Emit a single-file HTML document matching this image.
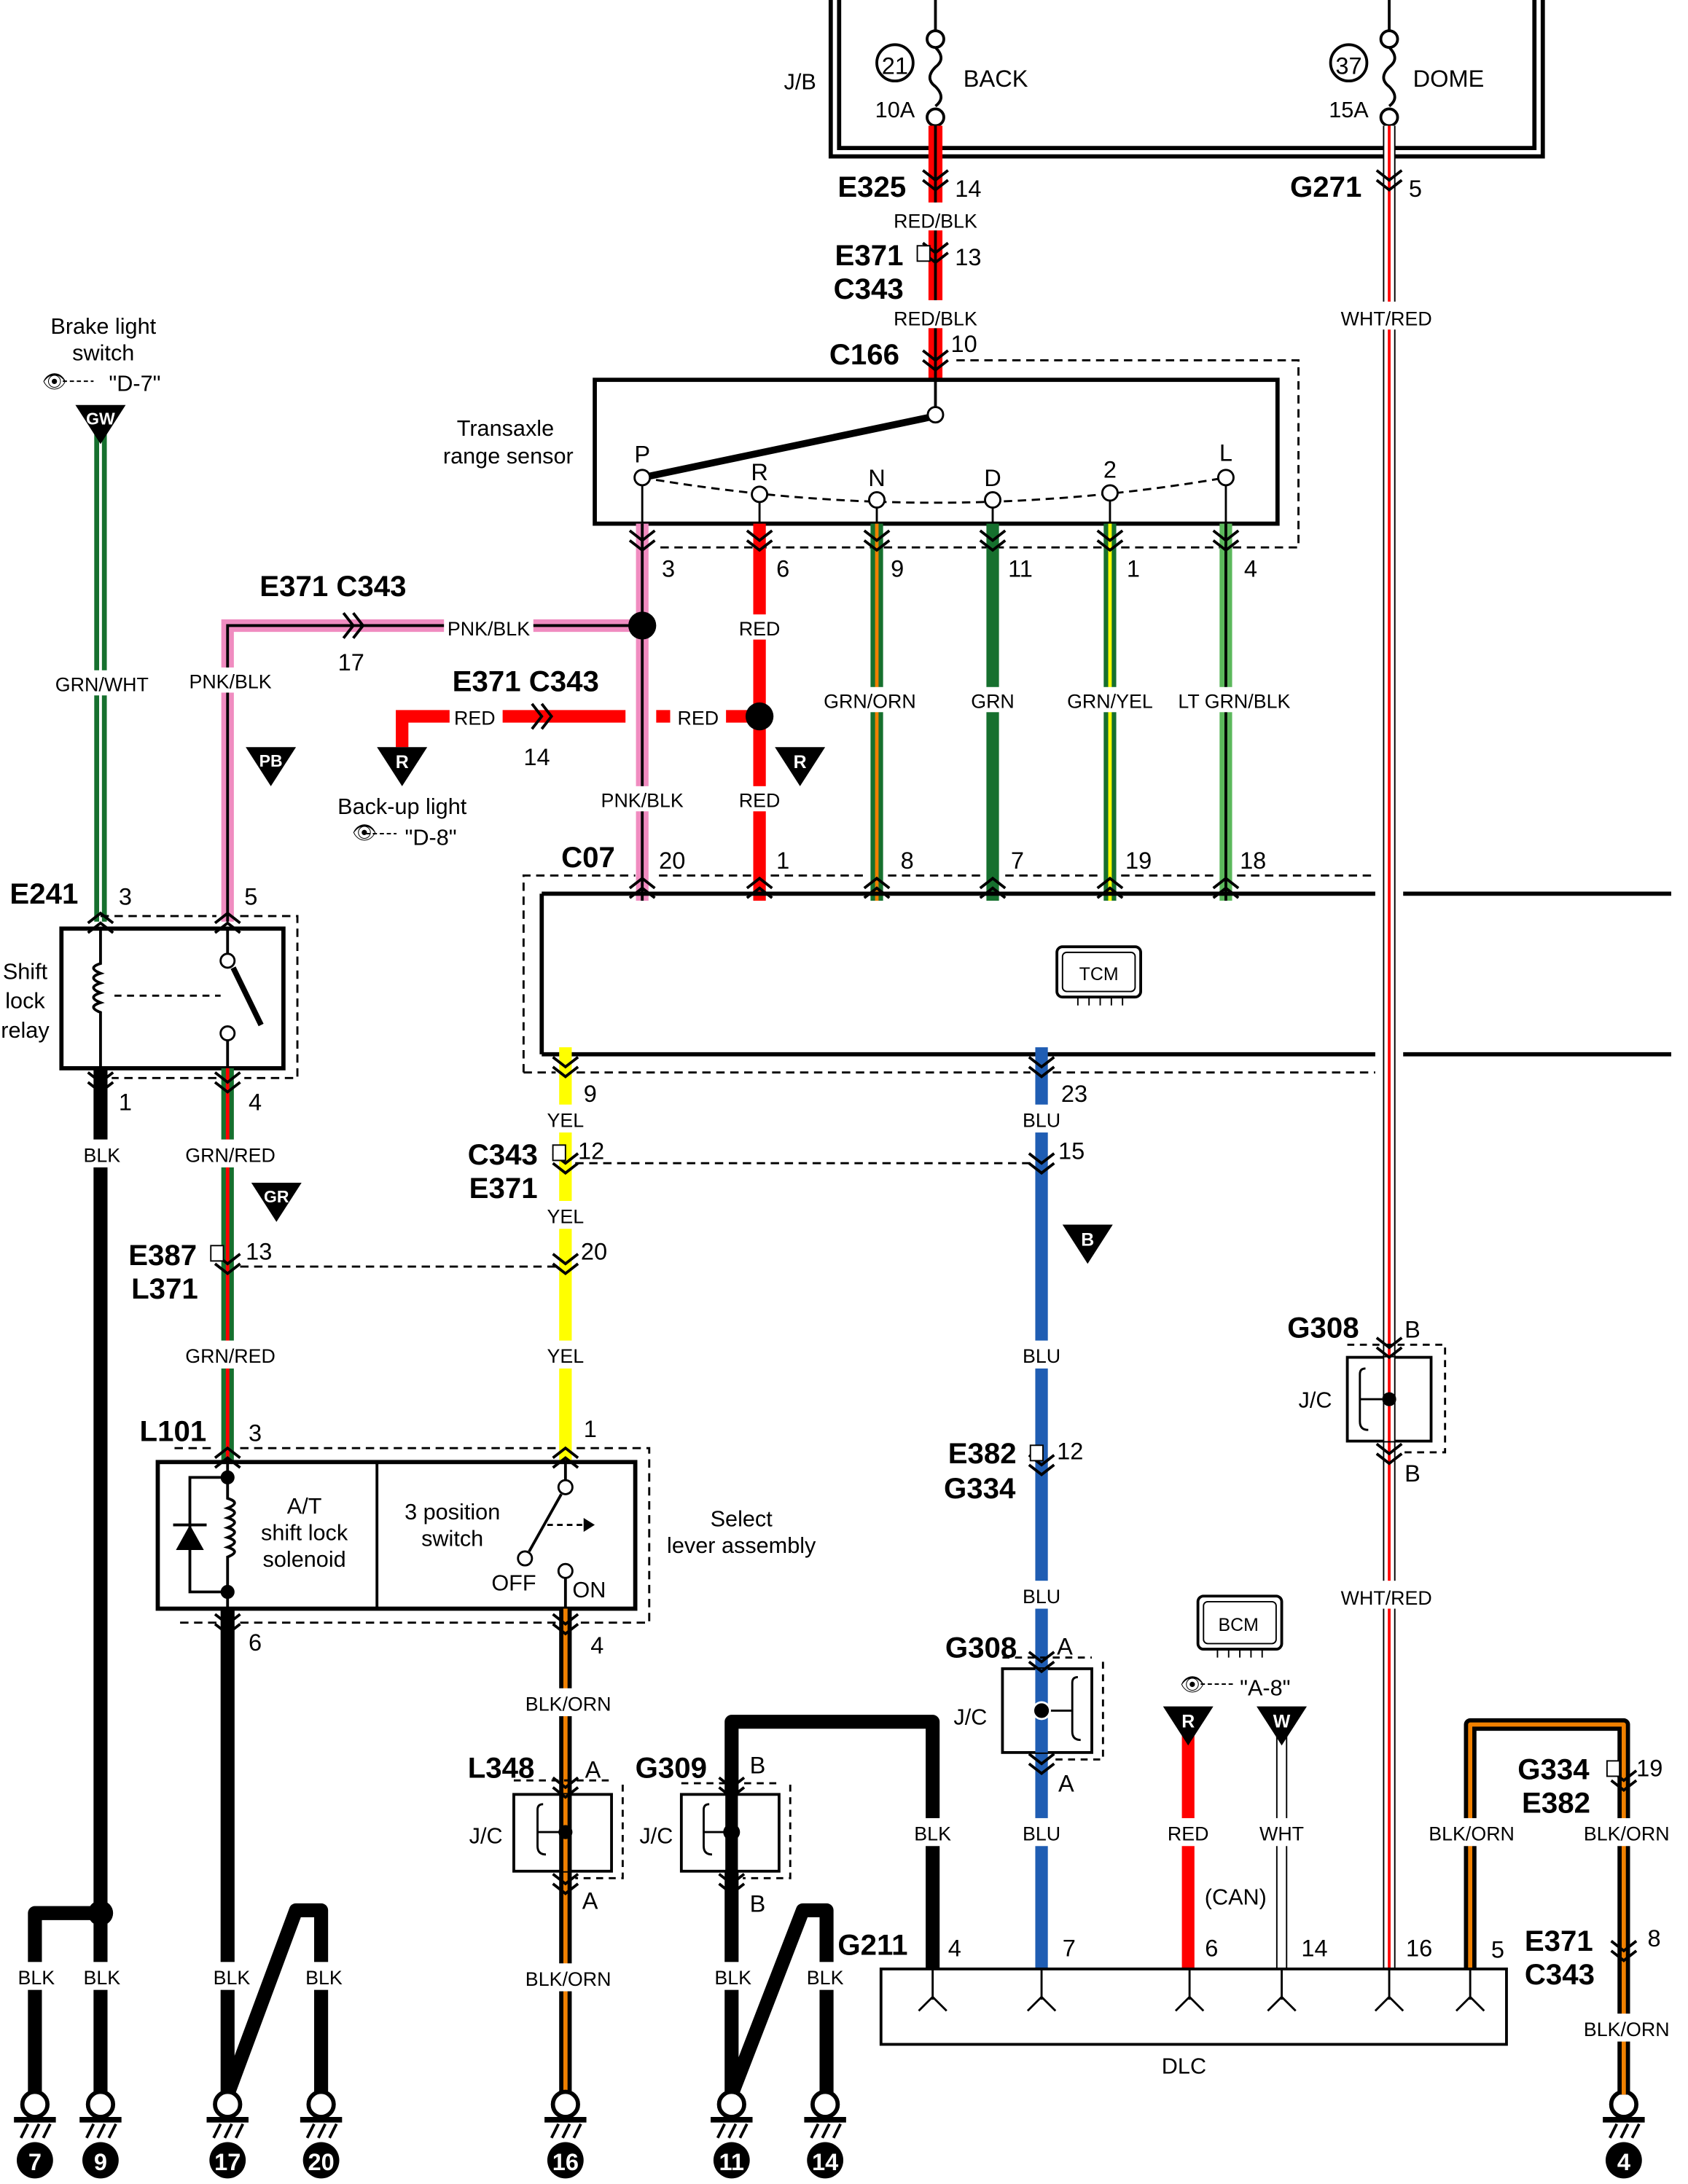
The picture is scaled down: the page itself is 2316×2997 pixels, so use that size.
<!DOCTYPE html>
<html><head><meta charset="utf-8"><style>
html,body{margin:0;padding:0;background:#fff}
svg{display:block}
text{font-family:"Liberation Sans",sans-serif;fill:#000}
.l{font-size:14px;text-anchor:middle}
.n{font-size:17px}
.b{font-size:21px;font-weight:bold}
.m{font-size:16px}
</style></head><body>
<svg width="2316" height="2997" viewBox="0 0 1209 1564" preserveAspectRatio="none" xmlns="http://www.w3.org/2000/svg">
<defs>
<g id="cv"><polyline points="-9,-4 0,3 9,-4" fill="none" stroke="#000" stroke-width="2"/><polyline points="-9,3 0,10 9,3" fill="none" stroke="#000" stroke-width="2"/></g>
<g id="cu"><polyline points="-9,4 0,-3 9,4" fill="none" stroke="#000" stroke-width="2"/><polyline points="-9,11 0,4 9,11" fill="none" stroke="#000" stroke-width="2"/></g>
<g id="gnd"><circle cx="0" cy="0" r="9" fill="#fff" stroke="#000" stroke-width="3"/><line x1="-15" y1="11" x2="15" y2="11" stroke="#000" stroke-width="4"/><path d="M-10,24 L-5,14 M-2,24 L3,14 M6,24 L11,14" stroke="#000" stroke-width="2"/></g>
</defs>

<!-- J/B -->
<path d="M595,0 V112 H1105 V0 M601,0 V106 H1099 V0" fill="none" stroke="#000" stroke-width="3"/>
<text x="573" y="64" class="m" text-anchor="middle">J/B</text>
<g fill="none" stroke="#000" stroke-width="2">
<line x1="670" y1="0" x2="670" y2="22"/><circle cx="670" cy="28" r="6" fill="#fff"/>
<path d="M670,34 q8,8 0,14 q-8,8 0,14 q8,8 0,14"/>
<circle cx="670" cy="84" r="6" fill="#fff"/>
<line x1="995" y1="0" x2="995" y2="22"/><circle cx="995" cy="28" r="6" fill="#fff"/>
<path d="M995,34 q8,8 0,14 q-8,8 0,14 q8,8 0,14"/>
<circle cx="995" cy="84" r="6" fill="#fff"/>
<circle cx="641" cy="45" r="13"/><circle cx="966" cy="45" r="13"/>
</g>
<text x="641" y="53" class="n" text-anchor="middle" font-size="19">21</text>
<text x="966" y="53" class="n" text-anchor="middle" font-size="19">37</text>
<text x="690" y="62" class="n" font-size="19">BACK</text>
<text x="1012" y="62" class="n" font-size="19">DOME</text>
<text x="641" y="84" class="m" text-anchor="middle">10A</text>
<text x="966" y="84" class="m" text-anchor="middle">15A</text>

<!-- RED/BLK top -->
<line x1="670" y1="90" x2="670" y2="272" stroke="#f00" stroke-width="10"/>
<line x1="670" y1="90" x2="670" y2="272" stroke="#000" stroke-width="2"/>
<rect x="660" y="145" width="22" height="20" fill="#fff"/><rect x="660" y="215" width="22" height="20" fill="#fff"/>
<text x="670" y="163" class="l">RED/BLK</text><text x="670" y="233" class="l">RED/BLK</text>
<use href="#cv" x="670" y="126"/><use href="#cv" x="670" y="178"/><use href="#cv" x="670" y="255"/>
<text x="600" y="141" class="b">E325</text><text x="684" y="141" class="n">14</text>
<text x="598" y="190" class="b">E371</text><rect x="657" y="176" width="9" height="11" fill="#fff" stroke="#000"/><text x="684" y="190" class="n">13</text>
<text x="597" y="214" class="b">C343</text>
<text x="594" y="261" class="b">C166</text><text x="681" y="252" class="n">10</text>

<!-- WHT/RED right -->
<line x1="995" y1="90" x2="995" y2="1410" stroke="#000" stroke-width="9"/>
<line x1="995" y1="90" x2="995" y2="1410" stroke="#fff" stroke-width="7"/>
<line x1="995" y1="90" x2="995" y2="1410" stroke="#f00" stroke-width="2"/>
<use href="#cv" x="995" y="126"/>
<text x="924" y="141" class="b">G271</text><text x="1009" y="141" class="n">5</text>
<rect x="960" y="216" width="70" height="20" fill="#fff"/><text x="993" y="233" class="l">WHT/RED</text>
<rect x="960" y="1132" width="70" height="20" fill="#fff"/><text x="993" y="1149" class="l">WHT/RED</text>

<!-- Transaxle range sensor -->
<path d="M685,258 H930 V392 H470" fill="none" stroke="#000" stroke-width="1.5" stroke-dasharray="6,4"/>
<rect x="426" y="272" width="489" height="103" fill="none" stroke="#000" stroke-width="3"/>
<text x="362" y="312" class="m" text-anchor="middle">Transaxle</text>
<text x="364" y="332" class="m" text-anchor="middle">range sensor</text>
<line x1="670" y1="272" x2="670" y2="297" stroke="#000" stroke-width="2"/>
<line x1="665" y1="299" x2="465" y2="341" stroke="#000" stroke-width="5"/>
<path d="M460,342 Q670,378 878,342" fill="none" stroke="#000" stroke-width="1.5" stroke-dasharray="6,4"/>
<g fill="#fff" stroke="#000" stroke-width="1.5">
<circle cx="670" cy="297" r="5.5"/>
<circle cx="460" cy="342" r="5.5"/><circle cx="544" cy="354" r="5.5"/><circle cx="628" cy="358" r="5.5"/>
<circle cx="711" cy="358" r="5.5"/><circle cx="795" cy="353" r="5.5"/><circle cx="878" cy="342" r="5.5"/>
</g>
<g stroke="#000" stroke-width="1.5">
<line x1="460" y1="348" x2="460" y2="375"/><line x1="544" y1="360" x2="544" y2="375"/><line x1="628" y1="364" x2="628" y2="375"/>
<line x1="711" y1="364" x2="711" y2="375"/><line x1="795" y1="359" x2="795" y2="375"/><line x1="878" y1="348" x2="878" y2="375"/>
</g>
<g class="n" font-size="18" text-anchor="middle">
<text x="460" y="331">P</text><text x="544" y="344">R</text><text x="628" y="348">N</text><text x="711" y="348">D</text><text x="795" y="342">2</text><text x="878" y="330">L</text>
</g>

<!-- sensor wires -->
<line x1="460" y1="375" x2="460" y2="645" stroke="#f08cc0" stroke-width="9"/><line x1="460" y1="375" x2="460" y2="645" stroke="#000" stroke-width="2"/>
<line x1="544" y1="375" x2="544" y2="645" stroke="#f00" stroke-width="9"/>
<line x1="628" y1="375" x2="628" y2="645" stroke="#16702e" stroke-width="9"/><line x1="628" y1="375" x2="628" y2="645" stroke="#f08000" stroke-width="2.5"/>
<line x1="711" y1="375" x2="711" y2="645" stroke="#16702e" stroke-width="9"/>
<line x1="795" y1="375" x2="795" y2="645" stroke="#16702e" stroke-width="9"/><line x1="795" y1="375" x2="795" y2="645" stroke="#ff0" stroke-width="2.5"/>
<line x1="878" y1="375" x2="878" y2="645" stroke="#5cb85c" stroke-width="9"/><line x1="878" y1="375" x2="878" y2="645" stroke="#000" stroke-width="2"/>
<g><use href="#cv" x="460" y="384"/><use href="#cv" x="544" y="384"/><use href="#cv" x="628" y="384"/><use href="#cv" x="711" y="384"/><use href="#cv" x="795" y="384"/><use href="#cv" x="878" y="384"/></g>
<g class="n"><text x="474" y="413">3</text><text x="556" y="413">6</text><text x="638" y="413">9</text><text x="722" y="413">11</text><text x="807" y="413">1</text><text x="891" y="413">4</text></g>
<g class="l">
<rect x="525" y="440" width="38" height="18" fill="#fff"/><text x="544" y="455">RED</text>
<rect x="590" y="492" width="76" height="18" fill="#fff"/><text x="623" y="507">GRN/ORN</text>
<rect x="693" y="492" width="36" height="18" fill="#fff"/><text x="711" y="507">GRN</text>
<rect x="762" y="492" width="66" height="18" fill="#fff"/><text x="795" y="507">GRN/YEL</text>
<rect x="843" y="492" width="82" height="18" fill="#fff"/><text x="884" y="507">LT GRN/BLK</text>
<rect x="430" y="563" width="62" height="18" fill="#fff"/><text x="460" y="578">PNK/BLK</text>
<rect x="525" y="563" width="38" height="18" fill="#fff"/><text x="544" y="578">RED</text>
</g>

<!-- PNK/BLK branch -->
<path d="M460,448 H163 V660" fill="none" stroke="#f08cc0" stroke-width="9"/>
<path d="M460,448 H163 V660" fill="none" stroke="#000" stroke-width="2"/>
<circle cx="460" cy="448" r="10" fill="#000"/>
<rect x="318" y="440" width="64" height="18" fill="#fff"/><text x="350" y="455" class="l">PNK/BLK</text>
<rect x="135" y="478" width="62" height="18" fill="#fff"/><text x="165" y="493" class="l">PNK/BLK</text>
<g transform="translate(250,448) rotate(-90)"><use href="#cv"/></g>
<text x="186" y="427" class="b">E371 C343</text><text x="242" y="480" class="n">17</text>
<path d="M176,535 h36 l-18,28z" fill="#000"/><text x="194" y="549" style="fill:#fff" font-size="12" font-weight="bold" text-anchor="middle">PB</text>

<!-- RED branch -->
<path d="M544,513 H495 M480,513 H470 M448,513 H288 V535" fill="none" stroke="#f00" stroke-width="9"/>
<circle cx="544" cy="513" r="10" fill="#000"/>
<rect x="322" y="504" width="38" height="18" fill="#fff"/><text x="340" y="519" class="l">RED</text>
<rect x="482" y="504" width="38" height="18" fill="#fff"/><text x="500" y="519" class="l">RED</text>
<g transform="translate(385,513) rotate(-90)"><use href="#cv"/></g>
<text x="324" y="495" class="b">E371 C343</text><text x="375" y="548" class="n">14</text>
<path d="M270,535 h36 l-18,28z" fill="#000"/><text x="288" y="550" style="fill:#fff" font-size="13" font-weight="bold" text-anchor="middle">R</text>
<path d="M555,535 h36 l-18,28z" fill="#000"/><text x="573" y="550" style="fill:#fff" font-size="13" font-weight="bold" text-anchor="middle">R</text>
<text x="288" y="583" class="m" text-anchor="middle">Back-up light</text>
<text x="290" y="605" class="m">"D-8"</text><text x="252" y="601" font-size="14">👁</text><path d="M262,597 h22" stroke="#000" stroke-dasharray="3,2"/>

<!-- C07 / TCM -->
<path d="M375,768 V627 H455 M472,627 H538 M552,627 H620 M636,627 H704 M720,627 H788 M803,627 H870 M886,627 H985" fill="none" stroke="#000" stroke-width="1.5" stroke-dasharray="6,4"/>
<path d="M375,768 H398 M413,768 H738 M754,768 H985" fill="none" stroke="#000" stroke-width="1.5" stroke-dasharray="6,4"/>
<path d="M388,640 H985 M1005,640 H1197 M388,755 H985 M1005,755 H1197 M388,640 V755" fill="none" stroke="#000" stroke-width="3"/>
<g><use href="#cu" x="460" y="632"/><use href="#cu" x="544" y="632"/><use href="#cu" x="628" y="632"/><use href="#cu" x="711" y="632"/><use href="#cu" x="795" y="632"/><use href="#cu" x="878" y="632"/></g>
<text x="402" y="621" class="b">C07</text>
<g class="n"><text x="472" y="622">20</text><text x="556" y="622">1</text><text x="645" y="622">8</text><text x="724" y="622">7</text><text x="806" y="622">19</text><text x="888" y="622">18</text></g>
<rect x="757" y="678" width="60" height="36" rx="4" fill="#fff" stroke="#000" stroke-width="2"/>
<rect x="761" y="682" width="52" height="28" rx="3" fill="none" stroke="#000" stroke-width="1"/>
<text x="787" y="702" font-size="13" text-anchor="middle">TCM</text>
<path d="M772,714 v6 M780,714 v6 M788,714 v6 M796,714 v6 M804,714 v6" stroke="#000"/>

<!-- YEL and BLU wires -->
<line x1="405" y1="750" x2="405" y2="1060" stroke="#ff0" stroke-width="9"/>
<line x1="746" y1="750" x2="746" y2="1410" stroke="#1f5db3" stroke-width="9"/>
<g class="l">
<rect x="388" y="791" width="34" height="20" fill="#fff"/><text x="405" y="807">YEL</text>
<rect x="388" y="860" width="34" height="20" fill="#fff"/><text x="405" y="876">YEL</text>
<rect x="388" y="960" width="34" height="20" fill="#fff"/><text x="405" y="976">YEL</text>
<rect x="728" y="791" width="36" height="20" fill="#fff"/><text x="746" y="807">BLU</text>
<rect x="728" y="960" width="36" height="20" fill="#fff"/><text x="746" y="976">BLU</text>
<rect x="728" y="1132" width="36" height="20" fill="#fff"/><text x="746" y="1148">BLU</text>
<rect x="728" y="1302" width="36" height="20" fill="#fff"/><text x="746" y="1318">BLU</text>
</g>
<use href="#cv" x="405" y="761"/><use href="#cv" x="746" y="761"/>
<text x="418" y="789" class="n">9</text><text x="760" y="789" class="n">23</text>
<use href="#cv" x="405" y="830"/><use href="#cv" x="746" y="830"/>
<line x1="412" y1="833" x2="738" y2="833" stroke="#000" stroke-width="1.5" stroke-dasharray="6,4"/>
<text x="335" y="834" class="b">C343</text><rect x="396" y="820" width="9" height="11" fill="#fff" stroke="#000"/><text x="414" y="830" class="n">12</text><text x="758" y="830" class="n">15</text>
<text x="336" y="858" class="b">E371</text>
<path d="M761,877 h36 l-18,28z" fill="#000"/><text x="779" y="892" style="fill:#fff" font-size="13" font-weight="bold" text-anchor="middle">B</text>
<use href="#cv" x="405" y="902"/><text x="416" y="902" class="n">20</text>

<!-- Left GRN/WHT -->
<text x="74" y="239" class="m" text-anchor="middle">Brake light</text>
<text x="74" y="258" class="m" text-anchor="middle">switch</text>
<text x="30" y="278" font-size="14">👁</text><path d="M45,273 h22" stroke="#000" stroke-dasharray="3,2"/><text x="78" y="280" class="m">"D-7"</text>
<line x1="72" y1="300" x2="72" y2="660" stroke="#16702e" stroke-width="9"/><line x1="72" y1="300" x2="72" y2="660" stroke="#fff" stroke-width="2"/>
<path d="M54,290 h36 l-18,28z" fill="#000"/><text x="72" y="304" style="fill:#fff" font-size="12" font-weight="bold" text-anchor="middle">GW</text>
<rect x="38" y="480" width="70" height="18" fill="#fff"/><text x="73" y="495" class="l">GRN/WHT</text>

<!-- E241 relay -->
<path d="M72,656 H155 M172,656 H213 V772 H175 M155,772 H80" fill="none" stroke="#000" stroke-width="1.5" stroke-dasharray="6,4"/>
<rect x="44" y="665" width="159" height="100" fill="#fff" stroke="#000" stroke-width="3"/>
<use href="#cu" x="72" y="657"/><use href="#cu" x="163" y="657"/>
<text x="7" y="647" class="b">E241</text><text x="85" y="648" class="n">3</text><text x="175" y="648" class="n">5</text>
<text x="18" y="701" class="m" text-anchor="middle">Shift</text><text x="18" y="722" class="m" text-anchor="middle">lock</text><text x="18" y="743" class="m" text-anchor="middle">relay</text>
<path d="M72,665 V690 q-10,3 0,7 q-10,3 0,7 q-10,3 0,7 q-10,3 0,7 q-10,3 0,7 V765" fill="none" stroke="#000" stroke-width="2"/>
<line x1="82" y1="713" x2="158" y2="713" stroke="#000" stroke-width="1.5" stroke-dasharray="5,4"/>
<path d="M163,665 V683 M163,745 V765" stroke="#000" stroke-width="2" fill="none"/>
<line x1="167" y1="693" x2="187" y2="734" stroke="#000" stroke-width="4"/>
<circle cx="163" cy="688" r="5" fill="#fff" stroke="#000" stroke-width="1.5"/><circle cx="163" cy="740" r="5" fill="#fff" stroke="#000" stroke-width="1.5"/>

<!-- BLK x=72 and GRN/RED x=163 -->
<line x1="72" y1="765" x2="72" y2="1500" stroke="#000" stroke-width="10"/>
<line x1="163" y1="765" x2="163" y2="1050" stroke="#16702e" stroke-width="9"/><line x1="163" y1="765" x2="163" y2="1050" stroke="#f00" stroke-width="2.5"/>
<use href="#cv" x="72" y="772"/><use href="#cv" x="163" y="772"/>
<text x="85" y="795" class="n">1</text><text x="178" y="795" class="n">4</text>
<rect x="55" y="816" width="36" height="20" fill="#fff"/><text x="73" y="832" class="l">BLK</text>
<rect x="130" y="816" width="68" height="20" fill="#fff"/><text x="165" y="832" class="l">GRN/RED</text>
<path d="M180,847 h36 l-18,28z" fill="#000"/><text x="198" y="861" style="fill:#fff" font-size="12" font-weight="bold" text-anchor="middle">GR</text>
<use href="#cv" x="163" y="902"/>
<line x1="172" y1="907" x2="398" y2="907" stroke="#000" stroke-width="1.5" stroke-dasharray="6,4"/>
<text x="92" y="906" class="b">E387</text><rect x="151" y="892" width="9" height="11" fill="#fff" stroke="#000"/><text x="176" y="902" class="n">13</text>
<text x="94" y="930" class="b">L371</text>
<rect x="130" y="960" width="68" height="20" fill="#fff"/><text x="165" y="976" class="l">GRN/RED</text>

<!-- L101 -->
<path d="M125,1037 H155 M172,1037 H398 M413,1037 H465 V1162 H413 M398,1162 H172 M155,1162 H125" fill="none" stroke="#000" stroke-width="1.5" stroke-dasharray="6,4"/>
<rect x="113" y="1047" width="342" height="105" fill="#fff" stroke="#000" stroke-width="3"/>
<line x1="270" y1="1047" x2="270" y2="1152" stroke="#000" stroke-width="2"/>
<use href="#cu" x="163" y="1040"/><use href="#cu" x="405" y="1040"/>
<text x="100" y="1032" class="b">L101</text><text x="178" y="1032" class="n">3</text><text x="418" y="1029" class="n">1</text>
<path d="M163,1047 V1058 H136 V1140 H163 V1152" fill="none" stroke="#000" stroke-width="2"/>
<path d="M163,1058 V1073 q10,3 0,7 q10,3 0,7 q10,3 0,7 q10,3 0,7 q10,3 0,7 q10,3 0,7 V1140" fill="none" stroke="#000" stroke-width="2"/>
<path d="M126,1110 h20 l-10,-18z" fill="#000"/><line x1="124" y1="1092" x2="148" y2="1092" stroke="#000" stroke-width="2"/>
<circle cx="163" cy="1058" r="5" fill="#000"/><circle cx="163" cy="1140" r="5" fill="#000"/>
<text x="218" y="1084" class="m" text-anchor="middle">A/T</text><text x="218" y="1103" class="m" text-anchor="middle">shift lock</text><text x="218" y="1122" class="m" text-anchor="middle">solenoid</text>
<text x="324" y="1088" class="m" text-anchor="middle">3 position</text><text x="324" y="1107" class="m" text-anchor="middle">switch</text>
<path d="M405,1047 V1060 M405,1130 V1152" stroke="#000" stroke-width="2"/>
<circle cx="405" cy="1065" r="5" fill="#fff" stroke="#000" stroke-width="1.5"/>
<circle cx="376" cy="1116" r="5" fill="#fff" stroke="#000" stroke-width="1.5"/>
<circle cx="405" cy="1125" r="5" fill="#fff" stroke="#000" stroke-width="1.5"/>
<line x1="402" y1="1070" x2="379" y2="1111" stroke="#000" stroke-width="2"/>
<line x1="392" y1="1092" x2="418" y2="1092" stroke="#000" stroke-width="1.5" stroke-dasharray="4,3"/><path d="M418,1087 l8,5 l-8,5z" fill="#000"/>
<text x="368" y="1139" class="m" text-anchor="middle">OFF</text><text x="422" y="1144" class="m" text-anchor="middle">ON</text>
<text x="531" y="1093" class="m" text-anchor="middle">Select</text><text x="531" y="1112" class="m" text-anchor="middle">lever assembly</text>

<!-- below L101 -->
<path d="M163,1152 V1500 L212,1368 H230 V1500" fill="none" stroke="#000" stroke-width="10" stroke-linejoin="round"/>
<path d="M72,1370 H25 V1500" fill="none" stroke="#000" stroke-width="10" stroke-linejoin="round"/>
<circle cx="72" cy="1370" r="9" fill="#000"/>
<line x1="405" y1="1152" x2="405" y2="1500" stroke="#000" stroke-width="9"/><line x1="405" y1="1152" x2="405" y2="1500" stroke="#f08000" stroke-width="3"/>
<use href="#cv" x="163" y="1160"/><use href="#cv" x="405" y="1160"/>
<text x="178" y="1182" class="n">6</text><text x="423" y="1184" class="n">4</text>
<rect x="375" y="1209" width="64" height="20" fill="#fff"/><text x="407" y="1225" class="l">BLK/ORN</text>

<!-- L348 -->
<path d="M368,1275 H438 M446,1278 V1345 H412" fill="none" stroke="#000" stroke-width="1.5" stroke-dasharray="5,4"/>
<rect x="368" y="1285" width="70" height="55" fill="#fff" stroke="#000" stroke-width="2"/>
<line x1="405" y1="1285" x2="405" y2="1340" stroke="#000" stroke-width="9"/><line x1="405" y1="1285" x2="405" y2="1340" stroke="#f08000" stroke-width="3"/>
<path d="M385,1296 V1322 q0,6 6,6 M385,1296 q0,-4 4,-4" fill="none" stroke="#000" stroke-width="1.5"/>
<line x1="385" y1="1312" x2="405" y2="1312" stroke="#000" stroke-width="1.5"/><circle cx="405" cy="1312" r="5" fill="#000"/>
<use href="#cv" x="405" y="1277"/><use href="#cv" x="405" y="1346"/>
<text x="335" y="1273" class="b">L348</text><text x="419" y="1273" class="n">A</text><text x="417" y="1367" class="n">A</text>
<text x="348" y="1320" class="m" text-anchor="middle">J/C</text>
<rect x="375" y="1406" width="64" height="20" fill="#fff"/><text x="407" y="1422" class="l">BLK/ORN</text>

<!-- G309 / G211 -->
<path d="M668,1410 V1233 H524 V1500 L575,1368 H592 V1500" fill="none" stroke="#000" stroke-width="10" stroke-linejoin="round"/>
<path d="M488,1277 H558 M566,1278 V1345 H532" fill="none" stroke="#000" stroke-width="1.5" stroke-dasharray="5,4"/>
<rect x="488" y="1285" width="70" height="55" fill="#fff" stroke="#000" stroke-width="2"/>
<line x1="524" y1="1285" x2="524" y2="1340" stroke="#000" stroke-width="9"/>
<path d="M504,1296 V1322 q0,6 6,6 M504,1296 q0,-4 4,-4" fill="none" stroke="#000" stroke-width="1.5"/>
<line x1="504" y1="1312" x2="520" y2="1312" stroke="#000" stroke-width="1.5"/><circle cx="524" cy="1312" r="6" fill="#000"/>
<use href="#cv" x="524" y="1277"/><use href="#cv" x="524" y="1346"/>
<text x="455" y="1273" class="b">G309</text><text x="537" y="1270" class="n">B</text><text x="537" y="1369" class="n">B</text>
<text x="470" y="1320" class="m" text-anchor="middle">J/C</text>
<rect x="650" y="1302" width="36" height="20" fill="#fff"/><text x="668" y="1318" class="l">BLK</text>

<!-- bottom BLK labels -->
<g class="l">
<rect x="8" y="1405" width="36" height="20" fill="#fff"/><text x="26" y="1421">BLK</text>
<rect x="55" y="1405" width="36" height="20" fill="#fff"/><text x="73" y="1421">BLK</text>
<rect x="148" y="1405" width="36" height="20" fill="#fff"/><text x="166" y="1421">BLK</text>
<rect x="213" y="1405" width="36" height="20" fill="#fff"/><text x="232" y="1421">BLK</text>
<rect x="507" y="1405" width="36" height="20" fill="#fff"/><text x="525" y="1421">BLK</text>
<rect x="573" y="1405" width="36" height="20" fill="#fff"/><text x="591" y="1421">BLK</text>
</g>

<!-- grounds -->
<use href="#gnd" x="25" y="1507"/><use href="#gnd" x="72" y="1507"/><use href="#gnd" x="163" y="1507"/><use href="#gnd" x="230" y="1507"/>
<use href="#gnd" x="405" y="1507"/><use href="#gnd" x="524" y="1507"/><use href="#gnd" x="591" y="1507"/><use href="#gnd" x="1163" y="1507"/>
<g font-size="17" font-weight="bold" text-anchor="middle">
<circle cx="25" cy="1547" r="13" fill="#000"/><text x="25" y="1554" style="fill:#fff">7</text>
<circle cx="72" cy="1547" r="13" fill="#000"/><text x="72" y="1554" style="fill:#fff">9</text>
<circle cx="163" cy="1547" r="13" fill="#000"/><text x="163" y="1554" style="fill:#fff">17</text>
<circle cx="230" cy="1547" r="13" fill="#000"/><text x="230" y="1554" style="fill:#fff">20</text>
<circle cx="405" cy="1547" r="13" fill="#000"/><text x="405" y="1554" style="fill:#fff">16</text>
<circle cx="524" cy="1547" r="13" fill="#000"/><text x="524" y="1554" style="fill:#fff">11</text>
<circle cx="591" cy="1547" r="13" fill="#000"/><text x="591" y="1554" style="fill:#fff">14</text>
<circle cx="1163" cy="1547" r="13" fill="#000"/><text x="1163" y="1554" style="fill:#fff">4</text>
</g>

<!-- BLU E382/G334, G308 A -->
<use href="#cv" x="746" y="1046"/>
<text x="679" y="1048" class="b">E382</text><rect x="738" y="1035" width="9" height="11" fill="#fff" stroke="#000"/><text x="757" y="1045" class="n">12</text>
<text x="676" y="1073" class="b">G334</text>
<path d="M718,1187 H782 M790,1190 V1260 H756" fill="none" stroke="#000" stroke-width="1.5" stroke-dasharray="5,4"/>
<rect x="718" y="1195" width="64" height="60" fill="#fff" stroke="#000" stroke-width="2"/>
<line x1="746" y1="1195" x2="746" y2="1255" stroke="#1f5db3" stroke-width="9"/>
<path d="M768,1205 V1240 q0,6 6,6 M768,1205 q0,-4 4,-4" fill="none" stroke="#000" stroke-width="1.5"/>
<line x1="750" y1="1225" x2="768" y2="1225" stroke="#000" stroke-width="1.5"/><circle cx="746" cy="1225" r="6" fill="#000" stroke="#fff" stroke-width="1.5"/>
<use href="#cv" x="746" y="1187"/><use href="#cv" x="746" y="1260"/>
<text x="677" y="1187" class="b">G308</text><text x="757" y="1185" class="n">A</text><text x="758" y="1283" class="n">A</text>
<text x="695" y="1235" class="m" text-anchor="middle">J/C</text>

<!-- G308 B on WHT/RED -->
<path d="M965,963 H1035 V1040 H1005" fill="none" stroke="#000" stroke-width="1.5" stroke-dasharray="5,4"/>
<rect x="965" y="972" width="60" height="60" fill="#fff" stroke="#000" stroke-width="2"/>
<line x1="995" y1="972" x2="995" y2="1032" stroke="#000" stroke-width="9"/><line x1="995" y1="972" x2="995" y2="1032" stroke="#fff" stroke-width="7"/><line x1="995" y1="972" x2="995" y2="1032" stroke="#f00" stroke-width="2"/>
<path d="M974,984 V1018 q0,6 6,6 M974,984 q0,-4 4,-4" fill="none" stroke="#000" stroke-width="1.5"/>
<line x1="974" y1="1002" x2="990" y2="1002" stroke="#000" stroke-width="1.5"/><circle cx="995" cy="1002" r="5" fill="#000"/>
<use href="#cv" x="995" y="962"/><use href="#cv" x="995" y="1038"/>
<text x="922" y="958" class="b">G308</text><text x="1006" y="958" class="n">B</text><text x="1006" y="1061" class="n">B</text>
<text x="942" y="1008" class="m" text-anchor="middle">J/C</text>

<!-- BCM -->
<rect x="858" y="1143" width="60" height="38" rx="4" fill="#fff" stroke="#000" stroke-width="2"/>
<rect x="862" y="1147" width="52" height="30" rx="3" fill="none" stroke="#000" stroke-width="1"/>
<text x="887" y="1168" font-size="13" text-anchor="middle">BCM</text>
<path d="M872,1181 v6 M880,1181 v6 M888,1181 v6 M896,1181 v6 M904,1181 v6" stroke="#000"/>
<text x="845" y="1211" font-size="14">👁</text><path d="M860,1206 h24" stroke="#000" stroke-dasharray="3,2"/><text x="888" y="1214" class="m">"A-8"</text>
<line x1="851" y1="1240" x2="851" y2="1410" stroke="#f00" stroke-width="9"/>
<line x1="918" y1="1240" x2="918" y2="1410" stroke="#000" stroke-width="8"/><line x1="918" y1="1240" x2="918" y2="1410" stroke="#fff" stroke-width="6"/>
<path d="M833,1222 h36 l-18,28z" fill="#000"/><text x="851" y="1237" style="fill:#fff" font-size="13" font-weight="bold" text-anchor="middle">R</text>
<path d="M900,1222 h36 l-18,28z" fill="#000"/><text x="918" y="1237" style="fill:#fff" font-size="13" font-weight="bold" text-anchor="middle">W</text>
<rect x="833" y="1302" width="36" height="20" fill="#fff"/><text x="851" y="1318" class="l">RED</text>
<rect x="900" y="1302" width="36" height="20" fill="#fff"/><text x="918" y="1318" class="l">WHT</text>
<text x="885" y="1364" class="m" text-anchor="middle">(CAN)</text>

<!-- BLK/ORN right -->
<path d="M1053,1410 V1235 H1163 V1500" fill="none" stroke="#000" stroke-width="9" stroke-linejoin="round"/>
<path d="M1053,1410 V1235 H1163 V1500" fill="none" stroke="#f08000" stroke-width="3" stroke-linejoin="round"/>
<use href="#cv" x="1163" y="1272"/>
<text x="1087" y="1274" class="b">G334</text><rect x="1151" y="1261" width="9" height="11" fill="#fff" stroke="#000"/><text x="1172" y="1272" class="n">19</text>
<text x="1090" y="1298" class="b">E382</text>
<g class="l">
<rect x="1022" y="1302" width="64" height="20" fill="#fff"/><text x="1054" y="1318">BLK/ORN</text>
<rect x="1133" y="1302" width="64" height="20" fill="#fff"/><text x="1165" y="1318">BLK/ORN</text>
<rect x="1133" y="1442" width="64" height="20" fill="#fff"/><text x="1165" y="1458">BLK/ORN</text>
</g>
<use href="#cv" x="1163" y="1394"/>
<text x="1092" y="1397" class="b">E371</text><text x="1180" y="1394" class="n">8</text>
<text x="1092" y="1421" class="b">C343</text>

<!-- DLC -->
<rect x="631" y="1410" width="448" height="54" fill="#fff" stroke="#000" stroke-width="2"/>
<g fill="none" stroke="#000" stroke-width="1.5">
<path d="M668,1410 V1432 M658,1440 L668,1430 L678,1440"/><path d="M746,1410 V1432 M736,1440 L746,1430 L756,1440"/>
<path d="M852,1410 V1432 M842,1440 L852,1430 L862,1440"/><path d="M918,1410 V1432 M908,1440 L918,1430 L928,1440"/>
<path d="M995,1410 V1432 M985,1440 L995,1430 L1005,1440"/><path d="M1053,1410 V1432 M1043,1440 L1053,1430 L1063,1440"/>
</g>
<text x="848" y="1485" class="m" text-anchor="middle">DLC</text>
<text x="600" y="1400" class="b">G211</text>
<g class="n"><text x="679" y="1401">4</text><text x="761" y="1401">7</text><text x="863" y="1401">6</text><text x="932" y="1401">14</text><text x="1007" y="1401">16</text><text x="1068" y="1402">5</text></g>
</svg>
</body></html>
